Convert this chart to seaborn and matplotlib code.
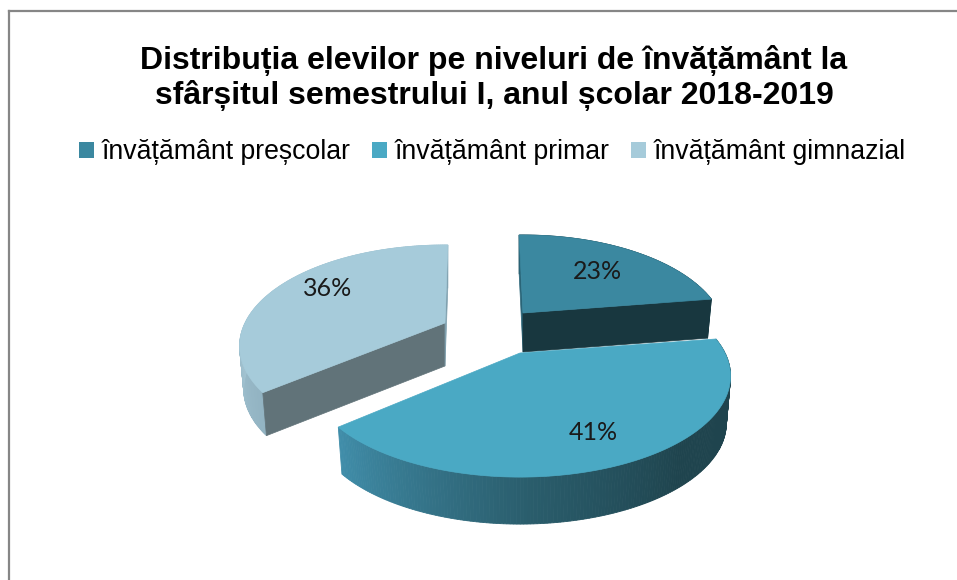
import numpy as np
import matplotlib
matplotlib.use("Agg")
import matplotlib.pyplot as plt
from matplotlib.colors import to_rgb
from matplotlib.patches import Patch
import seaborn as sns

# data
categories = ["învățământ preșcolar", "învățământ primar", "învățământ gimnazial"]
values = [23, 41, 36]
title = "Distribuția elevilor pe niveluri de învățământ la\nsfârșitul semestrului I, anul școlar 2018-2019"

top_colors = ["#3b88a0", "#4aa9c4", "#a6cbda"]

# geometry of the fake 3d pie, in pixels
slice_rot = [-1.4, -1.5, 1.0]
PERSP = 0.228
RY = 95.8
apex = [(523, 313), (520, 353), (445, 323)]
radius_x = [197, 205, 200]
depth = [39, 47, 43]
draw_order = [0, 2, 1]
label_pos = [(597, 272), (593, 433), (328, 289)]

# (angle in degrees, colour) stops for the rim of each slice
rim_stops = [
    [(0, "#1d4652"), (90, "#1d4652")],
    [(80, "#1f444e"), (140, "#1f444e"), (178, "#2a5d6c"), (228, "#408da9")],
    [(225, "#8fb0bf"), (270, "#a3c4d2"), (360, "#a3c4d2")],
]
# the middle slice hides its cut faces behind its own top
face_colors = [("#2a6578", "#18373f"), None, ("#617379", "#7fa0ae")]

sns.set_theme(style="white")
plt.rcParams["font.family"] = ["Liberation Sans", "DejaVu Sans"]
palette = sns.color_palette(top_colors)


def project(theta, r, i):
    t = np.radians(theta)
    x3 = r * np.sin(t)
    y3 = r * np.cos(t)
    w = 1 + PERSP * y3
    return apex[i][0] + radius_x[i] * x3 / w, apex[i][1] - RY * y3 / w


def lower(x, y, i):
    # bottom edge sits a bit further from the viewer, so it is narrower
    return apex[i][0] + (x - apex[i][0]) * 0.98, y + depth[i]


fig = plt.figure(figsize=(9.57, 5.8), dpi=100)
ax = fig.add_axes([9 / 957, 0, 948 / 957, 569 / 580])
ax.set_xlim(9, 957)
ax.set_ylim(580, 11)
ax.set_xticks([])
ax.set_yticks([])
sns.despine(ax=ax, top=False, left=False, right=True, bottom=True)
for side in ["top", "left"]:
    ax.spines[side].set_color("#868686")
    ax.spines[side].set_linewidth(1.6)

edges = np.cumsum([0] + values) * 3.6

for i in draw_order:
    a0, a1 = edges[i] + slice_rot[i], edges[i + 1] + slice_rot[i]
    thetas = np.linspace(a0, a1, 200)
    rx, ry = project(thetas, 1.0, i)
    bx, by = lower(rx, ry, i)
    ax0, ay0 = apex[i]
    lx0, ly0 = lower(ax0, ay0, i)

    # outer wall, shaded strip by strip
    stops = rim_stops[i]
    rgb = np.array([to_rgb(c) for _, c in stops])
    for j in range(len(thetas) - 1):
        mid = (thetas[j] + thetas[j + 1]) / 2
        col = [np.interp(mid, [s for s, _ in stops], rgb[:, k]) for k in range(3)]
        ax.fill([rx[j], rx[j + 1], bx[j + 1], bx[j]],
                [ry[j], ry[j + 1], by[j + 1], by[j]], color=col, lw=0.6, zorder=2)

    # cut faces
    if face_colors[i] is not None:
        for th, col in zip((a0, a1), face_colors[i]):
            ex, ey = project(th, 1.0, i)
            fx, fy = lower(ex, ey, i)
            ax.fill([ax0, ex, fx, lx0], [ay0, ey, fy, ly0], color=col, lw=0.5, zorder=2)

    # top surface
    ax.fill(np.r_[ax0, rx], np.r_[ay0, ry], color=palette[i], lw=0.5, zorder=3)
    ax.text(label_pos[i][0], label_pos[i][1], f"{values[i]}%", ha="center", va="center",
            fontsize=18, family="Lato", color="#1a1a1a", zorder=4)

ax.text(494, 78, title, ha="center", va="center", fontsize=23, fontweight="bold",
        color="black", linespacing=1.2)

handles = [Patch(facecolor=c, edgecolor="none") for c in palette]
ax.legend(handles, categories, loc="center", bbox_to_anchor=(492.5, 152),
          bbox_transform=ax.transData, ncol=3, frameon=False, fontsize=19.2,
          handlelength=0.55, handleheight=0.55, handletextpad=0.3, columnspacing=0.8,
          labelcolor="black")

fig.savefig("out.png", dpi=100)
